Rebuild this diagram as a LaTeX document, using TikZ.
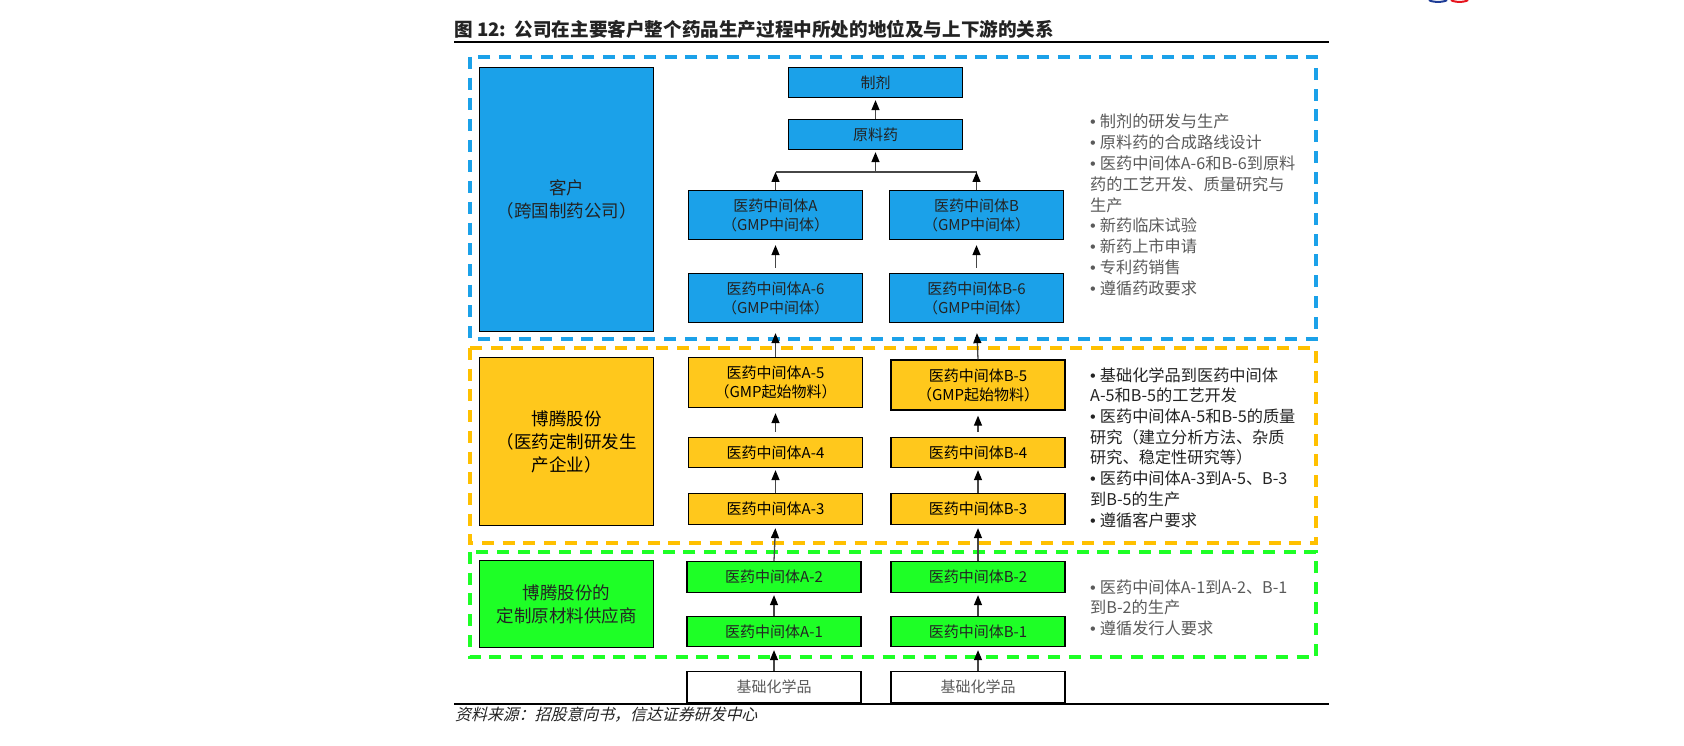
\documentclass[tikz,border=0pt]{standalone}
\usepackage{fontspec}
\setmainfont{Noto Sans CJK SC}
\newfontfamily\srcfont[FakeSlant=0.25]{Noto Sans CJK SC}
\newfontfamily\bulfont{Liberation Sans}
\newcommand{\lbul}{{\bulfont\char"2022}\hspace{4pt}}
\usetikzlibrary{arrows.meta}

\definecolor{custblue}{RGB}{27,161,233}
\definecolor{cdmoyellow}{RGB}{255,200,28}
\definecolor{framegold}{RGB}{255,192,0}
\definecolor{supgreen}{RGB}{30,255,38}
\definecolor{arrgray}{RGB}{70,70,70}
\definecolor{txtgray}{RGB}{90,90,90}
\definecolor{txtdark}{RGB}{35,35,35}
\definecolor{logoblue}{RGB}{30,60,150}
\definecolor{logored}{RGB}{230,20,30}

\begin{document}
\begin{tikzpicture}[x=1pt, y=-1pt,
  frame/.style={line width=4pt, dash pattern=on 12pt off 8.7pt},
  box/.style={draw=black, line width=1.3pt, minimum width=174pt, inner sep=0pt,
    align=center, font=\fontsize{15}{19}\selectfont},
  bigbox/.style={box, font=\fontsize{17.5}{23}\selectfont},
  listtext/.style={anchor=west, inner sep=0pt, font=\fontsize{16.2}{20}\selectfont},
  arr/.style={draw=arrgray, line width=1.3pt,
    -{Triangle[length=10pt, width=8pt, color=black]}}]
  % Page of the same size as the reference.
  \useasboundingbox (0,0) rectangle (1684,746);
  % Cut-off logo at the top edge.
  \draw[logoblue, line width=2pt] (1429,0) .. controls (1432,2.5) and (1444,2.5) .. (1447,0);
  \draw[logored, line width=2pt] (1451,0) .. controls (1454,2.5) and (1465,2.5) .. (1468,0);
  % Title and rules.
  \node[anchor=west, inner sep=0pt, text=txtdark,
    font=\fontsize{18.6}{22}\selectfont\bfseries] (title) at (454,29)
    {图 12:\ \ 公司在主要客户整个药品生产过程中所处的地位及与上下游的关系};
  \draw[line width=2pt] (454,42) -- (1329,42);
  \draw[line width=2pt] (454,704) -- (1329,704);
  \node[anchor=west, inner sep=0pt, text=txtdark,
    font=\fontsize{15.9}{19}\selectfont\srcfont] (source) at (455,715)
    {资料来源：招股意向书，信达证券研发中心};
  % Dashed frames of the three tiers.
  \draw[frame, custblue] (470,57) rectangle (1316,339);
  \draw[frame, framegold] (470,348) rectangle (1316,543);
  \draw[frame, supgreen] (470,552) rectangle (1316,657);

  % Tier 1: customer.
  \node[bigbox, fill=custblue, minimum height=264pt, text=txtdark] (cust) at (566.5,199.5)
    {客户\\（跨国制药公司）};
  \node[box, fill=custblue, minimum height=30pt, text=txtdark] (drug) at (875.5,82.5) {制剂};
  \node[box, fill=custblue, minimum height=30pt, text=txtdark] (api) at (875.5,134.5) {原料药};
  \node[box, fill=custblue, minimum height=49pt, text=txtdark] (ia) at (775.5,215)
    {医药中间体A\\（GMP中间体）};
  \node[box, fill=custblue, minimum height=49pt, text=txtdark] (ib) at (976.5,215)
    {医药中间体B\\（GMP中间体）};
  \node[box, fill=custblue, minimum height=49pt, text=txtdark] (a6) at (775.5,298)
    {医药中间体A-6\\（GMP中间体）};
  \node[box, fill=custblue, minimum height=49pt, text=txtdark] (b6) at (976.5,298)
    {医药中间体B-6\\（GMP中间体）};

  % Tier 2: Porton CDMO.
  \node[bigbox, fill=cdmoyellow, minimum height=168pt, text=black] (cdmo) at (566.5,441.5)
    {博腾股份\\（医药定制研发生\\产企业）};
  \node[box, fill=cdmoyellow, minimum height=50pt, text=black] (a5) at (775.5,382.5)
    {医药中间体A-5\\（GMP起始物料）};
  \node[box, fill=cdmoyellow, minimum height=50pt, text=black] (b5) at (978,385)
    {医药中间体B-5\\（GMP起始物料）};
  \node[box, fill=cdmoyellow, minimum height=30pt, text=black] (a4) at (775.5,452.5) {医药中间体A-4};
  \node[box, fill=cdmoyellow, minimum height=30pt, text=black] (b4) at (978,452.5) {医药中间体B-4};
  \node[box, fill=cdmoyellow, minimum height=31pt, text=black] (a3) at (775.5,509) {医药中间体A-3};
  \node[box, fill=cdmoyellow, minimum height=31pt, text=black] (b3) at (978,509) {医药中间体B-3};

  % Tier 3: raw material supplier.
  \node[bigbox, fill=supgreen, minimum height=87pt, text=txtdark] (supp) at (566.5,604)
    {博腾股份的\\定制原材料供应商};
  \node[box, fill=supgreen, minimum height=31pt, text=txtdark] (a2) at (774,577) {医药中间体A-2};
  \node[box, fill=supgreen, minimum height=31pt, text=txtdark] (b2) at (978,577) {医药中间体B-2};
  \node[box, fill=supgreen, minimum height=30pt, text=txtdark] (a1) at (774,631.5) {医药中间体A-1};
  \node[box, fill=supgreen, minimum height=30pt, text=txtdark] (b1) at (978,631.5) {医药中间体B-1};
  \node[box, fill=white, minimum height=31pt, text=txtgray] (chema) at (774,687) {基础化学品};
  \node[box, fill=white, minimum height=31pt, text=txtgray] (chemb) at (978,687) {基础化学品};

  % Arrows up the chain.
  \draw[arr, shorten >=2pt] (api.north) -- (drug.south);
  \coordinate (junc) at (875.5,172);
  \draw[arrgray, line width=1.3pt] (ia.north |- junc) -- (ib.north |- junc);
  \draw[arr] (ia.north) -- (ia.north |- junc);
  \draw[arr] (ib.north) -- (ib.north |- junc);
  \draw[arr, shorten >=2pt] (junc) -- (api.south);
  \foreach \c in {a,b} {
    \draw[arr, shorten <=5pt, shorten >=5pt] (\c6.north) -- (i\c.south);
    \draw[arr, shorten >=10pt] (\c5.north) -- (\c6.south);
    \draw[arr, shorten <=5pt, shorten >=5pt] (\c4.north) -- (\c5.south);
    \draw[arr, shorten >=2pt] (\c3.north) -- (\c4.south);
    \draw[arr, shorten >=3pt] (\c2.north) -- (\c3.south);
    \draw[arr, shorten >=2pt] (\c1.north) -- (\c2.south);
    \draw[arr, shorten >=3pt] (chem\c.north) -- (\c1.south);
  }

  % Notes on the right of each tier.
  \foreach \txt [count=\i] in {{\lbul 制剂的研发与生产}, {\lbul 原料药的合成路线设计},
      {\lbul 医药中间体A-6和B-6到原料}, {药的工艺开发、质量研究与}, {生产},
      {\lbul 新药临床试验}, {\lbul 新药上市申请}, {\lbul 专利药销售}, {\lbul 遵循药政要求}}
    \node[listtext, text=txtgray] (cn\i) at (1090,{121.7+20.8*(\i-1)}) {\txt};
  \foreach \txt [count=\i] in {{\lbul 基础化学品到医药中间体}, {A-5和B-5的工艺开发},
      {\lbul 医药中间体A-5和B-5的质量}, {研究（建立分析方法、杂质}, {研究、稳定性研究等）},
      {\lbul 医药中间体A-3到A-5、B-3}, {到B-5的生产}, {\lbul 遵循客户要求}}
    \node[listtext, text=txtdark] (pn\i) at (1090,{375+20.7*(\i-1)}) {\txt};
  \foreach \txt [count=\i] in {{\lbul 医药中间体A-1到A-2、B-1}, {到B-2的生产}, {\lbul 遵循发行人要求}}
    \node[listtext, text=txtgray] (sn\i) at (1090,{587+20.7*(\i-1)}) {\txt};
\end{tikzpicture}
\end{document}
